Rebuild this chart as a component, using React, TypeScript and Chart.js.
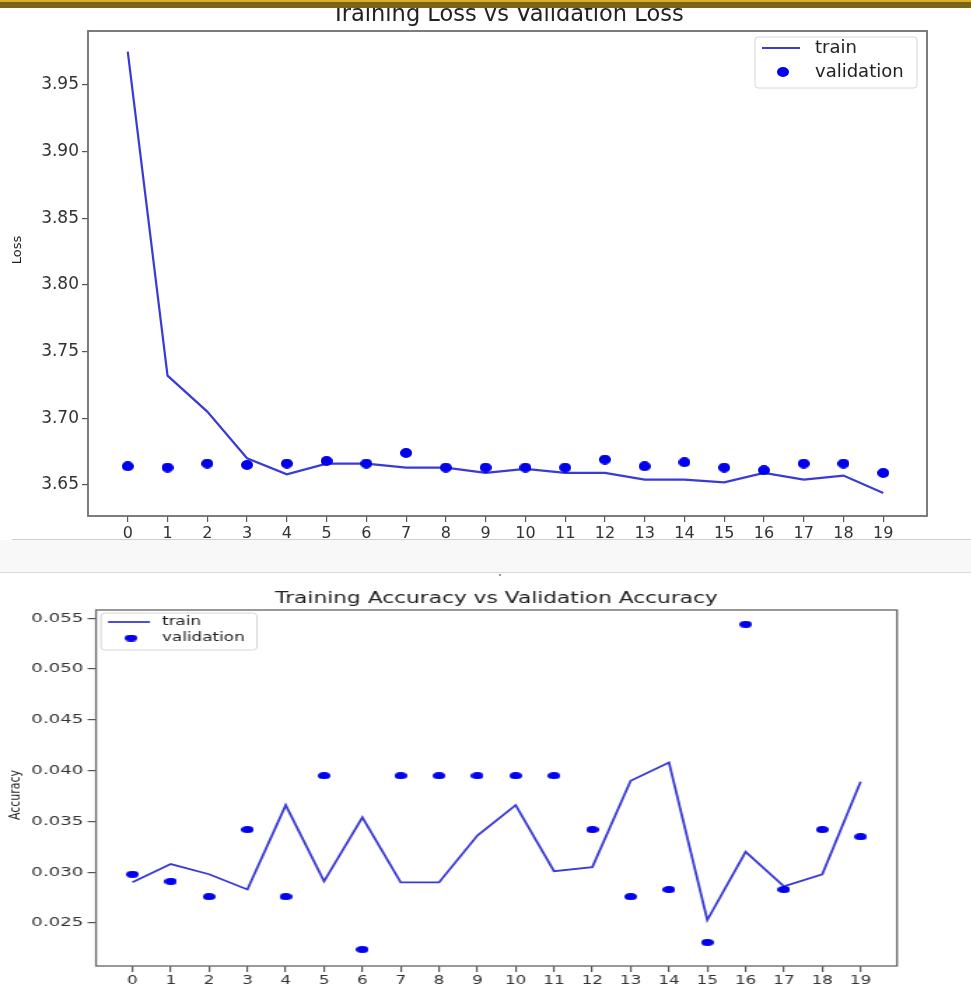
import React, { useEffect, useRef } from "react";
import { Chart, registerables } from "chart.js";

Chart.register(...registerables);

// ---------- data ----------
const epochs = [0, 1, 2, 3, 4, 5, 6, 7, 8, 9, 10, 11, 12, 13, 14, 15, 16, 17, 18, 19];

const lossTrain = [3.975, 3.732, 3.705, 3.670, 3.658, 3.666, 3.666, 3.663, 3.663, 3.659,
  3.662, 3.659, 3.659, 3.654, 3.654, 3.652, 3.659, 3.654, 3.657, 3.644];
const lossVal = [3.664, 3.663, 3.666, 3.665, 3.666, 3.668, 3.666, 3.674, 3.663, 3.663,
  3.663, 3.663, 3.669, 3.664, 3.667, 3.663, 3.661, 3.666, 3.666, 3.659];

const accTrain = [0.0290, 0.0308, 0.0298, 0.0283, 0.0366, 0.0291, 0.0354, 0.0290, 0.0290, 0.0336,
  0.0366, 0.0301, 0.0305, 0.0390, 0.0408, 0.0253, 0.0320, 0.0286, 0.0298, 0.0389];
const accVal = [0.0298, 0.0291, 0.0276, 0.0342, 0.0276, 0.0395, 0.0224, 0.0395, 0.0395, 0.0395,
  0.0395, 0.0395, 0.0342, 0.0276, 0.0283, 0.0231, 0.0544, 0.0283, 0.0342, 0.0335];

const lossTicks = [3.65, 3.7, 3.75, 3.8, 3.85, 3.9, 3.95];
const accTicks = [0.025, 0.03, 0.035, 0.04, 0.045, 0.05, 0.055];

const seriesNames = ["train", "validation"];

// ---------- styles ----------
const LINE_COLOR = "#3a3ad6";
const DOT_COLOR = "#0000ee";
const FONT = "'DejaVu Sans', sans-serif";

function ellipseCanvas(w: number, h: number, color: string) {
  const c = document.createElement("canvas");
  c.width = w;
  c.height = h;
  const g = c.getContext("2d")!;
  g.fillStyle = color;
  g.beginPath();
  g.ellipse(w / 2, h / 2, w / 2, h / 2, 0, 0, Math.PI * 2);
  g.fill();
  return c;
}

type Decor = {
  title: string;
  titleFont: string;
  titleY: number;
  yTitle: string;
  yTitleFont: string;
  yTitleX: number;
  yTitleY: number;
  frameWidth: number;
  legend: {
    x: number; y: number; w: number; h: number;
    lx1: number; lx2: number; ly: number;
    dx: number; dy: number;
    tx: number; font: string;
  };
  dot: HTMLCanvasElement;
  lineWidth: number;
};

function decorPlugin(d: Decor) {
  return {
    id: "decor",
    afterDraw(chart: any) {
      const { ctx, chartArea: a } = chart;
      ctx.save();
      // frame (spines)
      ctx.strokeStyle = "#6e6e6e";
      ctx.lineWidth = d.frameWidth;
      ctx.strokeRect(a.left, a.top, a.right - a.left, a.bottom - a.top);
      // title
      ctx.fillStyle = "#222";
      ctx.font = d.titleFont;
      ctx.textAlign = "center";
      ctx.textBaseline = "alphabetic";
      ctx.fillText(d.title, (a.left + a.right) / 2, d.titleY);
      // y title
      ctx.save();
      ctx.translate(d.yTitleX, d.yTitleY);
      ctx.rotate(-Math.PI / 2);
      ctx.font = d.yTitleFont;
      ctx.textBaseline = "middle";
      ctx.fillText(d.yTitle, 0, 0);
      ctx.restore();
      // legend
      const L = d.legend;
      ctx.beginPath();
      (ctx as any).roundRect(L.x, L.y, L.w, L.h, 3);
      ctx.fillStyle = "rgba(255,255,255,0.85)";
      ctx.fill();
      ctx.strokeStyle = "#d6d6d6";
      ctx.lineWidth = 1;
      ctx.stroke();
      ctx.strokeStyle = LINE_COLOR;
      ctx.lineWidth = d.lineWidth;
      ctx.beginPath();
      ctx.moveTo(L.lx1, L.ly);
      ctx.lineTo(L.lx2, L.ly);
      ctx.stroke();
      ctx.drawImage(d.dot, L.dx - d.dot.width / 2, L.dy - d.dot.height / 2);
      ctx.fillStyle = "#222";
      ctx.font = L.font;
      ctx.textAlign = "left";
      ctx.textBaseline = "middle";
      ctx.fillText(seriesNames[0], L.tx, L.ly);
      ctx.fillText(seriesNames[1], L.tx, L.dy);
      ctx.restore();
    },
  };
}

function makeConfig(opts: {
  train: number[]; val: number[]; ticks: number[]; digits: number;
  xmin: number; xmax: number;
  ymin: number; ymax: number; yWidth: number; xHeight: number;
  pad: { top: number; right: number };
  yFont: number; xFont: number; lineWidth: number; dot: HTMLCanvasElement; decor: Decor;
}) {
  const toPts = (arr: number[]) => arr.map((v, i) => ({ x: epochs[i], y: v }));
  return {
    type: "line" as const,
    data: {
      datasets: [
        {
          label: seriesNames[0],
          data: toPts(opts.train),
          borderColor: LINE_COLOR,
          borderWidth: opts.lineWidth,
          pointRadius: 0,
          tension: 0,
          fill: false,
          order: 2,
        },
        {
          label: seriesNames[1],
          data: toPts(opts.val),
          showLine: false,
          pointStyle: opts.dot,
          pointRadius: 6,
          pointBackgroundColor: DOT_COLOR,
          order: 1,
        },
      ],
    },
    options: {
      animation: false as const,
      responsive: false,
      maintainAspectRatio: false,
      layout: { padding: { top: opts.pad.top, right: opts.pad.right, left: 0, bottom: 0 } },
      plugins: { legend: { display: false }, title: { display: false }, tooltip: { enabled: false } },
      scales: {
        x: {
          type: "linear" as const,
          min: opts.xmin,
          max: opts.xmax,
          border: { display: false },
          grid: { display: true, drawOnChartArea: false, drawTicks: true, tickLength: 6, color: "#555", lineWidth: 1.2 },
          ticks: {
            autoSkip: false,
            maxRotation: 0,
            padding: 2,
            color: "#333",
            font: { family: FONT, size: opts.xFont },
            callback: (v: any) => String(v),
          },
          afterBuildTicks: (s: any) => { s.ticks = epochs.map((v) => ({ value: v })); },
          afterFit: (s: any) => { s.height = opts.xHeight; },
        },
        y: {
          type: "linear" as const,
          min: opts.ymin,
          max: opts.ymax,
          border: { display: false },
          grid: { display: true, drawOnChartArea: false, drawTicks: true, tickLength: 6, color: "#555", lineWidth: 1.2 },
          ticks: {
            padding: 3,
            color: "#333",
            font: { family: FONT, size: opts.yFont },
            callback: (v: any) => Number(v).toFixed(opts.digits),
          },
          afterBuildTicks: (s: any) => { s.ticks = opts.ticks.map((v) => ({ value: v })); },
          afterFit: (s: any) => { s.width = opts.yWidth; },
        },
      },
    },
    plugins: [decorPlugin(opts.decor)],
  };
}

const S = 1.4; // horizontal stretch of the lower figure

export default function App() {
  const topRef = useRef<HTMLCanvasElement>(null);
  const botRef = useRef<HTMLCanvasElement>(null);

  useEffect(() => {
    const dotTop = ellipseCanvas(12, 10, DOT_COLOR);
    const dotBot = ellipseCanvas(9, 7, DOT_COLOR);

    const topChart = new Chart(
      topRef.current!,
      makeConfig({
        train: lossTrain, val: lossVal, ticks: lossTicks, digits: 2,
        xmin: -1.0, xmax: 20.1,
        ymin: 3.6267, ymax: 3.9905, yWidth: 88, xHeight: 22,
        pad: { top: 31, right: 44 }, yFont: 17, xFont: 16, lineWidth: 2.2, dot: dotTop,
        decor: {
          title: "Training Loss vs Validation Loss",
          titleFont: `22.5px ${FONT}`, titleY: 21,
          yTitle: "Loss", yTitleFont: `13px ${FONT}`, yTitleX: 18, yTitleY: 250,
          frameWidth: 1.8,
          legend: { x: 755, y: 37, w: 162, h: 51, lx1: 762, lx2: 800, ly: 48, dx: 783, dy: 72, tx: 815, font: `18px ${FONT}` },
          dot: dotTop, lineWidth: 2.2,
        },
      }) as any
    );

    const botChart = new Chart(
      botRef.current!,
      makeConfig({
        train: accTrain, val: accVal, ticks: accTicks, digits: 3,
        xmin: -0.95, xmax: 19.95,
        ymin: 0.02077, ymax: 0.0558, yWidth: 96 / S, xHeight: 21,
        pad: { top: 34, right: 693 - 897 / S }, yFont: 13, xFont: 12, lineWidth: 1.8, dot: dotBot,
        decor: {
          title: "Training Accuracy vs Validation Accuracy",
          titleFont: `15.5px ${FONT}`, titleY: 27,
          yTitle: "Accuracy", yTitleFont: `11px ${FONT}`, yTitleX: 15 / S, yTitleY: 219,
          frameWidth: 1.4,
          legend: { x: 101 / S, y: 37, w: 156 / S, h: 37, lx1: 108 / S, lx2: 150 / S, ly: 46, dx: 131 / S, dy: 62, tx: 162 / S, font: `12px ${FONT}` },
          dot: dotBot, lineWidth: 1.8,
        },
      }) as any
    );

    return () => {
      topChart.destroy();
      botChart.destroy();
    };
  }, []);

  return (
    <div style={{ position: "absolute", left: 0, top: 0, width: 971, height: 987, background: "#fff", overflow: "hidden" }}>
      <canvas ref={topRef} width={971} height={538} style={{ position: "absolute", left: 0, top: 0, width: 971, height: 538 }} />
      <div style={{ position: "absolute", left: 0, top: 0, width: 971, height: 2, background: "#dcae2b" }} />
      <div style={{ position: "absolute", left: 0, top: 2, width: 971, height: 6, background: "#7a6418" }} />
      <div style={{ position: "absolute", left: 12, top: 539, width: 959, height: 1, background: "#cfcfcf" }} />
      <div style={{ position: "absolute", left: 0, top: 540, width: 971, height: 32, background: "#f8f8f8" }} />
      <div style={{ position: "absolute", left: 0, top: 572, width: 971, height: 1, background: "#d9d9d9" }} />
      <div style={{ position: "absolute", left: 499, top: 574, width: 2, height: 2, background: "#999" }} />
      <div style={{ position: "absolute", left: 0, top: 576, width: 693, height: 411, transform: `scaleX(${S})`, transformOrigin: "0 0" }}>
        <canvas ref={botRef} width={693} height={411} style={{ position: "absolute", left: 0, top: 0, width: 693, height: 411 }} />
      </div>
    </div>
  );
}
